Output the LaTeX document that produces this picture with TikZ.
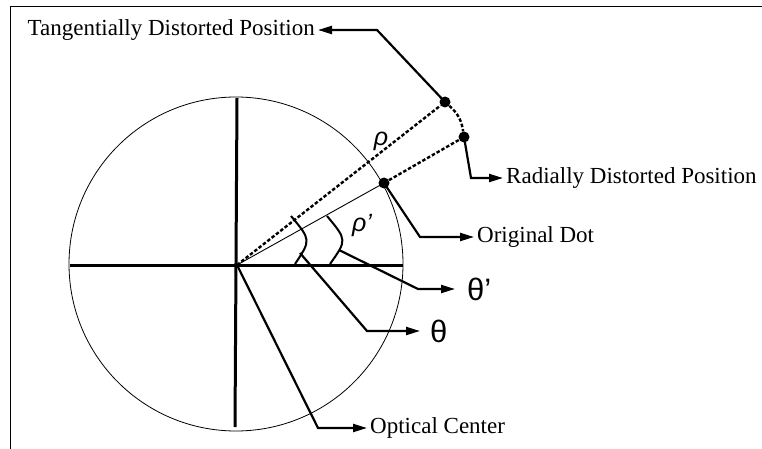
\documentclass[tikz,border=0pt]{standalone}
\usepackage{fontspec}
\setmainfont{Liberation Serif}
\newfontfamily\greekfont{Liberation Sans}
\usetikzlibrary{arrows.meta,positioning}

\begin{document}
\begin{tikzpicture}[
    x=1pt, y=-1pt,
    note/.style={font=\fontsize{23}{23}\selectfont, inner sep=3pt},
    greek/.style={font=\greekfont\fontsize{31}{31}\selectfont, inner sep=0pt},
    rhotag/.style={font=\greekfont\itshape\fontsize{25}{25}\selectfont, inner sep=0pt},
    dot/.style={circle, fill, inner sep=0pt, minimum width=10pt, minimum height=11pt},
    axis/.style={line width=3pt},
    leader/.style={line width=2.2pt},
    arrow/.style={-{Triangle[length=14pt,width=8pt]}, line width=2.2pt},
    dashray/.style={line width=2.4pt, dash pattern=on 3.5pt off 2pt}
]
    \useasboundingbox (0,0) rectangle (762,449);
    % frame
    \draw[line width=1pt] (10,449) -- (10,7) -- (762,7);

    % circle and axes
    \coordinate (oc) at (237,265);
    \draw[line width=0.8pt] (236,264) circle (167);
    \draw[axis] (70,265) -- (403,265);
    \draw[axis] (237,98) -- (235,427);

    % dots
    \node[dot] (orig) at (384,183) {};
    \node[dot] (rad) at (464,137) {};
    \node[dot] (tang) at (445,102) {};

    \draw[line width=0.9pt] (oc) -- (orig.center);
    \draw[dashray] (orig) -- (rad);
    \draw[dashray] (oc) -- (tang);
    \draw[dashray] (tang) to[bend left=20] (rad);

    % angle arcs
    \draw[line width=2pt] (291,216) .. controls (311,240) .. (295,264);
    \draw[line width=2pt] (327,216) .. controls (347,240) .. (330,264);
    \coordinate (thfoot) at (300,253);
    \coordinate (thpfoot) at (339,250);

    \node[rhotag] (rho) at (381,141) {ρ};
    \node[rhotag] (rhop) at (362,225) {ρ’};

    % leaders
    \coordinate (tangbend) at (377,30);
    \coordinate (tangtip) at (318,30);
    \node[note, left=0pt of tangtip] (tangtxt) {Tangentially Distorted Position};
    \draw[arrow] (tang.center) -- (tangbend) -- (tangtxt.east);

    \coordinate (radbend) at (471,178);
    \coordinate (radtip) at (503,178);
    \node[note, right=0pt of radtip] (radtxt) {Radially Distorted Position};
    \draw[arrow] (rad.center) -- (radbend) -- (radtxt.west);

    \coordinate (origbend) at (420,237);
    \coordinate (origtip) at (474,237);
    \node[note, right=0pt of origtip] (origtxt) {Original Dot};
    \draw[arrow] (orig.center) -- (origbend) -- (origtxt.west);

    \coordinate (thpbend) at (418,289);
    \coordinate (thptip) at (455,289);
    \node[greek, right=12pt of thptip] (thp) {θ’};
    \draw[arrow] (thpfoot) -- (thpbend) -- (thptip);

    \coordinate (thbend) at (367,331);
    \coordinate (thtip) at (420,331);
    \node[greek, right=10pt of thtip] (th) {θ};
    \draw[arrow] (thfoot) -- (thbend) -- (thtip);

    \coordinate (ocbend) at (318,428);
    \coordinate (octip) at (367,428);
    \node[note, right=0pt of octip] (octxt) {Optical Center};
    \draw[arrow] (oc) -- (ocbend) -- (octxt.west);
\end{tikzpicture}
\end{document}
